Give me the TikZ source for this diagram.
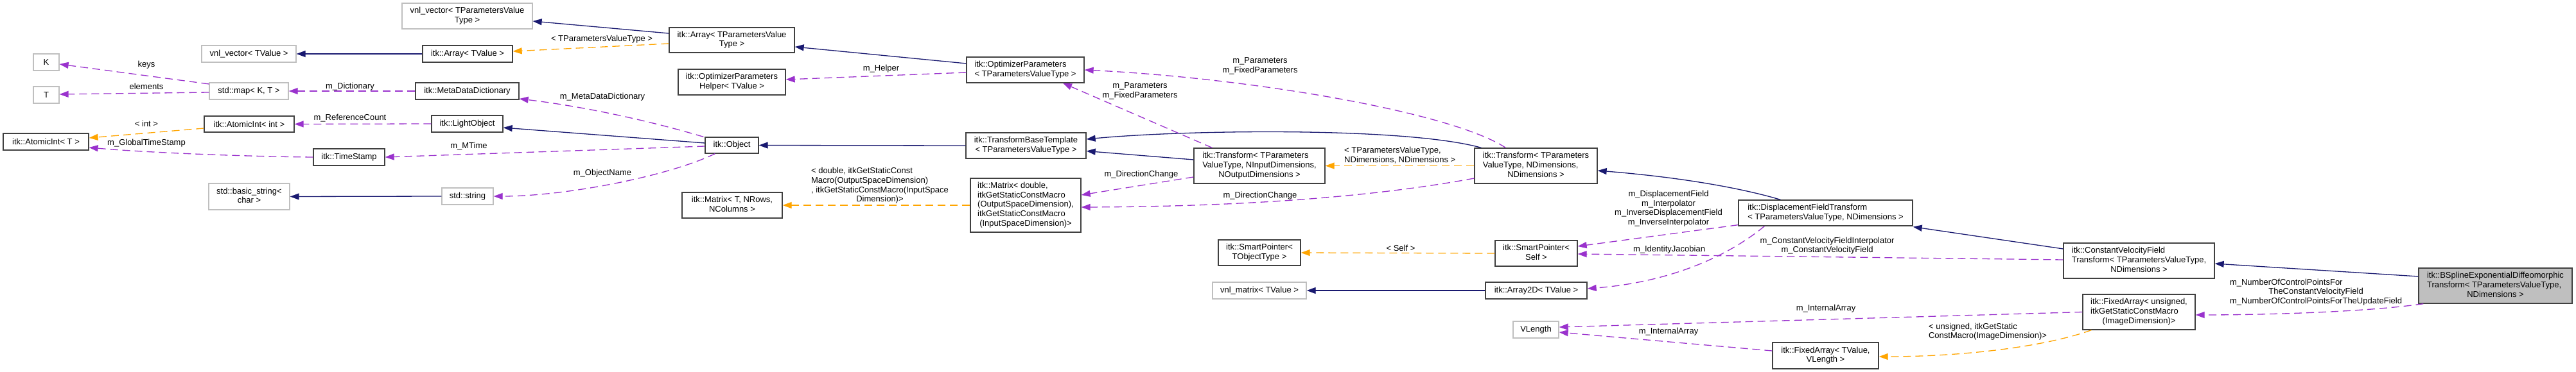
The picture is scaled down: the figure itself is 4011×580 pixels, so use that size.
\documentclass[tikz,border=0pt]{standalone}
\usepackage{fontspec}
\setmainfont{Liberation Sans}
\usetikzlibrary{arrows.meta,calc}
\definecolor{inh}{HTML}{191970}
\definecolor{usec}{HTML}{9A32CD}
\definecolor{tplc}{HTML}{FFA500}
\definecolor{bdr}{HTML}{404040}
\definecolor{ubdr}{HTML}{BFBFBF}
\definecolor{mainfill}{HTML}{BFBFBF}
\newcommand{\Lt}[2]{\begin{tabular}{@{}l@{}}#1\\\multicolumn{1}{@{}c@{}}{#2}\end{tabular}}
\begin{document}
\begin{tikzpicture}[x=1pt,y=-1pt,
  font=\fontsize{13}{14.7}\selectfont,
  cls/.style={draw=bdr,line width=1.3pt,fill=white,inner sep=0pt,rectangle,text=black},
  ucls/.style={cls,draw=ubdr},
  mcls/.style={cls,fill=mainfill},
  wh/.style 2 args={minimum width=#1,minimum height=#2},
  inhe/.style={draw=inh,line width=1.3pt,-{Triangle[length=14pt,width=10pt]}},
  usee/.style={draw=usec,line width=1.3pt,dash pattern=on 12pt off 7pt,-{Triangle[length=14pt,width=10pt]}},
  tple/.style={draw=tplc,line width=1.3pt,dash pattern=on 12pt off 7pt,-{Triangle[length=14pt,width=10pt]}},
  lab/.style={inner sep=0pt,text=black,align=center},
]
\useasboundingbox[fill=white] (0,0) rectangle (4011,580);
% nodes
\node[ucls,wh={203}{40}] (vnlTPVT) at (727.5,25) {\Lt{vnl\_vector< TParametersValue}{Type >}};
\node[ucls,wh={147}{26}] (vnlTV) at (387.5,84) {vnl\_vector< TValue >};
\node[ucls,wh={40}{26}] (K) at (72,97) {K};
\node[ucls,wh={40}{26}] (T) at (72,148) {T};
\node[ucls,wh={123}{26}] (map) at (387.5,142) {std::map< K, T >};
\node[cls,wh={140}{25}] (aiInt) at (388,193.5) {itk::AtomicInt< int >};
\node[cls,wh={133}{26}] (aiT) at (71.5,221) {itk::AtomicInt< T >};
\node[cls,wh={111}{26}] (tstamp) at (543.5,245) {itk::TimeStamp};
\node[ucls,wh={126}{41}] (bstr) at (388,306.5) {\Lt{std::basic\_string<}{char >}};
\node[cls,wh={140}{26}] (arrTV) at (728,84) {itk::Array< TValue >};
\node[cls,wh={195}{39}] (arrTPVT) at (1139.5,62.5) {\Lt{itk::Array< TParametersValue}{Type >}};
\node[cls,wh={167}{40}] (helper) at (1139.5,128) {\Lt{itk::OptimizerParameters}{Helper< TValue >}};
\node[cls,wh={161}{26}] (mdd) at (727.5,142) {itk::MetaDataDictionary};
\node[cls,wh={111}{26}] (light) at (727.5,193) {itk::LightObject};
\node[cls,wh={83}{25}] (object) at (1139.5,226.5) {itk::Object};
\node[ucls,wh={80}{26}] (stdstr) at (728,306) {std::string};
\node[cls,wh={156}{40}] (mtxT) at (1140,320) {\Lt{itk::Matrix< T, NRows,}{NColumns >}};
\node[cls,wh={183}{40}] (optp) at (1596.5,109) {\Lt{itk::OptimizerParameters}{< TParametersValueType >}};
\node[cls,wh={187}{40}] (tbt) at (1597.5,227) {\Lt{itk::TransformBaseTemplate}{< TParametersValueType >}};
\node[cls,wh={172}{84}] (mtxD) at (1597,320) {\Lt{itk::Matrix< double,\\itkGetStaticConstMacro\\(OutputSpaceDimension),\\itkGetStaticConstMacro}{(InputSpaceDimension)>}};
\node[cls,wh={204}{55}] (tr1) at (1961,258.5) {\Lt{itk::Transform< TParameters\\ValueType, NInputDimensions,}{NOutputDimensions >}};
\node[cls,wh={191}{55}] (tr2) at (2391.5,258.5) {\Lt{itk::Transform< TParameters\\ValueType, NDimensions,}{NDimensions >}};
\node[cls,wh={128}{40}] (spT) at (1961,394) {\Lt{itk::SmartPointer<}{TObjectType >}};
\node[cls,wh={128}{40}] (spS) at (2392,395) {\Lt{itk::SmartPointer<}{Self >}};
\node[ucls,wh={146}{26}] (vnlmat) at (1961,453) {vnl\_matrix< TValue >};
\node[cls,wh={158}{26}] (arr2d) at (2392,453) {itk::Array2D< TValue >};
\node[ucls,wh={71}{26}] (vlen) at (2391.5,514) {VLength};
\node[cls,wh={271}{40}] (dft) at (2842.5,332) {\Lt{itk::DisplacementFieldTransform}{< TParametersValueType, NDimensions >}};
\node[cls,wh={235}{55}] (cvf) at (3330.5,406.5) {\Lt{itk::ConstantVelocityField\\Transform< TParametersValueType,}{NDimensions >}};
\node[cls,wh={175}{55}] (faU) at (3330.5,486.5) {\Lt{itk::FixedArray< unsigned,\\itkGetStaticConstMacro}{(ImageDimension)>}};
\node[cls,wh={165}{41}] (faV) at (2842.5,554.5) {\Lt{itk::FixedArray< TValue,}{VLength >}};
\node[mcls,wh={239}{55}] (bsp) at (3885.5,445.5) {\Lt{itk::BSplineExponentialDiffeomorphic\\Transform< TParametersValueType,}{NDimensions >}};
% edges
\draw[inhe] (arrTV.west) -- (vnlTV.east);
\draw[usee] ($(map.west)+(0,-11)$) -- ($(K.east)+(0,3)$);
\draw[usee] ($(map.west)+(0,2)$) -- ($(T.east)+(0,-1)$);
\draw[usee] (mdd.west) -- (map.east);
\draw[tple] ($(aiInt.west)+(0,6.5)$) -- ($(aiT.east)+(0,-6)$);
\draw[usee] (light.west) -- (aiInt.east);
\draw[usee] (tstamp.west) .. controls (380,244) and (230,238) .. ($(aiT.east)+(0,9)$);
\draw[usee] ($(object.west)+(0,1.5)$) -- (tstamp.east);
\draw[inhe] (stdstr.west) -- (bstr.east);
\draw[usee] ($(object.south west)+(16,0)$) .. controls (1040,275) and (880,306) .. (stdstr.east);
\draw[usee] ($(object.north west)+(-2,0)$) .. controls (1000,185) and (900,165) .. ($(mdd.east)+(0,12)$);
\draw[inhe] ($(object.west)+(0,-3.5)$) -- ($(light.east)+(0,6)$);
\draw[tple] ($(arrTPVT.west)+(0,5.5)$) -- ($(arrTV.east)+(0,-4)$);
\draw[inhe] ($(arrTPVT.west)+(0,-10.5)$) -- ($(vnlTPVT.east)+(0,8)$);
\draw[inhe] ($(optp.west)+(0,-10)$) -- ($(arrTPVT.east)+(0,10.5)$);
\draw[usee] ($(optp.west)+(0,4)$) -- ($(helper.east)+(0,-4)$);
\draw[inhe] (tbt.west) -- (object.east);
\draw[inhe] ($(tr1.west)+(0,-9.5)$) -- ($(tbt.east)+(0,8.5)$);
\draw[inhe] ($(tr2.north west)+(11,0)$) .. controls (2190,198) and (1850,202) .. ($(tbt.east)+(0,-10)$);
\draw[usee] ($(tr1.north west)+(29,0)$) -- ($(optp.south)+(58.5,0)$);
\draw[usee] ($(tr2.north west)+(49,0)$) .. controls (2260,175) and (1950,122) .. (optp.east);
\draw[usee] ($(tr1.west)+(0,17.5)$) -- ($(mtxD.east)+(0,-16)$);
\draw[usee] ($(tr2.west)+(0,19.5)$) .. controls (2150,305) and (1950,322) .. ($(mtxD.east)+(0,3)$);
\draw[tple] (tr2.west) -- (tr1.east);
\draw[tple] (mtxD.west) -- (mtxT.east);
\draw[inhe] ($(dft.north west)+(66,0)$) .. controls (2700,290) and (2600,275) .. ($(tr2.east)+(0,7.5)$);
\draw[tple] (spS.west) -- (spT.east);
\draw[usee] ($(dft.south west)+(0,-2)$) -- ($(spS.east)+(0,-11)$);
\draw[usee] ($(cvf.west)+(0,-1.5)$) -- ($(spS.east)+(0,1)$);
\draw[usee] ($(dft.south west)+(41,0)$) .. controls (2690,400) and (2600,440) .. ($(arr2d.east)+(0,-3)$);
\draw[inhe] (arr2d.west) -- (vnlmat.east);
\draw[inhe] ($(cvf.west)+(0,-18.5)$) -- ($(dft.south east)+(0,1)$);
\draw[inhe] ($(bsp.west)+(0,-14.5)$) -- ($(cvf.east)+(0,4.5)$);
\draw[usee] ($(bsp.south west)+(8,0)$) .. controls (3680,487) and (3520,491) .. ($(faU.east)+(0,4.5)$);
\draw[usee] (faU.west) -- ($(vlen.east)+(0,-4)$);
\draw[usee] ($(faV.west)+(0,-7.5)$) -- ($(vlen.east)+(0,4)$);
\draw[tple] ($(faU.south west)+(14,0)$) .. controls (3180,542) and (3050,556) .. ($(faV.east)+(0,1.5)$);
% labels
\node[lab] (lkeys) at (228,101) {keys};
\node[lab] (lelem) at (228,135) {elements};
\node[lab] (ldict) at (545,135) {m\_Dictionary};
\node[lab] (lint) at (228,193) {< int >};
\node[lab] (lref) at (545,184) {m\_ReferenceCount};
\node[lab] (lgts) at (228,223) {m\_GlobalTimeStamp};
\node[lab] (ltpvt) at (937,61) {< TParametersValueType >};
\node[lab] (lmdd) at (938,151) {m\_MetaDataDictionary};
\node[lab] (lmtime) at (730,228) {m\_MTime};
\node[lab] (lobjname) at (938,270) {m\_ObjectName};
\node[lab] (lhelper) at (1372,107) {m\_Helper};
\node[lab] (ldbl) at (1370,290) {\Lt{< double, itkGetStaticConst\\Macro(OutputSpaceDimension)\\, itkGetStaticConstMacro(InputSpace}{Dimension)>}};
\node[lab] (lpar1) at (1775,142) {m\_Parameters\\m\_FixedParameters};
\node[lab] (lpar2) at (1962,103) {m\_Parameters\\m\_FixedParameters};
\node[lab] (ldir1) at (1777,272) {m\_DirectionChange};
\node[lab] (ldir2) at (1962,305) {m\_DirectionChange};
\node[lab,anchor=west] (lnd) at (2093,243) {\Lt{< TParametersValueType,}{NDimensions, NDimensions >}};
\node[lab] (lself) at (2181,387) {< Self >};
\node[lab] (ldisp) at (2598,325) {m\_DisplacementField\\m\_Interpolator\\m\_InverseDisplacementField\\m\_InverseInterpolator};
\node[lab] (ljac) at (2599,389) {m\_IdentityJacobian};
\node[lab] (lia1) at (2598,517) {m\_InternalArray};
\node[lab] (lcvf) at (2845,383) {m\_ConstantVelocityFieldInterpolator\\m\_ConstantVelocityField};
\node[lab] (lia2) at (2843,481) {m\_InternalArray};
\node[lab] (lunsg) at (3095,517.5) {\Lt{< unsigned, itkGetStatic}{ConstMacro(ImageDimension)>}};
\node[lab] (lnum) at (3606,456) {\begin{tabular}{@{}l@{}}m\_NumberOfControlPointsFor\\\multicolumn{1}{@{}c@{}}{TheConstantVelocityField}\\m\_NumberOfControlPointsForTheUpdateField\end{tabular}};
\end{tikzpicture}
\end{document}
